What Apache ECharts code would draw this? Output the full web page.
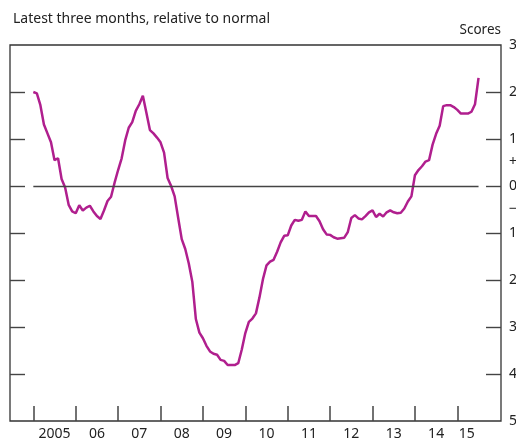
<!DOCTYPE html>
<html>
<head>
<meta charset="utf-8">
<script src="https://cdn.jsdelivr.net/npm/echarts@6/dist/echarts.min.js"></script>
<style>
  html, body { margin: 0; padding: 0; background: #fff; }
  #chart { width: 516px; height: 439px; }
</style>
</head>
<body>
<div id="chart"></div>
<script>
// monthly scores, Jan 2005 onwards
const startYear = 2005;
const scores = [
  2.00, 1.97, 1.72, 1.31, 1.12, 0.93, 0.55, 0.59, 0.15, -0.03, -0.40, -0.54,
  -0.58, -0.41, -0.52, -0.46, -0.42, -0.54, -0.64, -0.70, -0.52, -0.32, -0.23, 0.07,
  0.34, 0.59, 0.97, 1.24, 1.36, 1.60, 1.74, 1.92, 1.56, 1.19, 1.12, 1.03,
  0.93, 0.71, 0.17, 0.00, -0.22, -0.68, -1.13, -1.34, -1.65, -2.04, -2.83, -3.12,
  -3.24, -3.40, -3.52, -3.57, -3.59, -3.70, -3.72, -3.81, -3.81, -3.81, -3.77, -3.48,
  -3.13, -2.89, -2.82, -2.71, -2.37, -1.98, -1.69, -1.61, -1.57, -1.40, -1.20, -1.06,
  -1.05, -0.84, -0.72, -0.74, -0.72, -0.54, -0.64, -0.64, -0.64, -0.75, -0.92, -1.03,
  -1.04, -1.09, -1.12, -1.11, -1.10, -0.98, -0.68, -0.62, -0.69, -0.71, -0.64, -0.56,
  -0.52, -0.66, -0.59, -0.65, -0.56, -0.52, -0.56, -0.58, -0.57, -0.48, -0.33, -0.22,
  0.23, 0.34, 0.42, 0.52, 0.55, 0.88, 1.11, 1.28, 1.70, 1.72, 1.72, 1.68,
  1.62, 1.54, 1.54, 1.54, 1.58, 1.74, 2.30
];
const yearTicks = [2005, 2006, 2007, 2008, 2009, 2010, 2011, 2012, 2013, 2014, 2015];
const yearLabelPos = [2005.5, 2006.5, 2007.5, 2008.5, 2009.5, 2010.5, 2011.5, 2012.5, 2013.5, 2014.5, 2015.22];
const scoreTicks = [-4, -3, -2, -1, 0, 1, 2];
const scoreLabels = [-5, -4, -3, -2, -1, -0.5, 0, 0.5, 1, 2, 3];

const lineData = scores.map((v, i) => [startYear + i / 12, v]);
const lastX = startYear + (scores.length - 1) / 12;

const W = 516, gridLeft = 10, gridRight = 15, tickLen = 15;
const xMin = 2004.45, xMax = 2016.03;
// tick length expressed in x-axis units so the marks go through the axis scale
const tickSpan = tickLen * (xMax - xMin) / (W - gridLeft - gridRight);

const tickSegs = [];
scoreTicks.forEach(t => {
  tickSegs.push([{ coord: [xMin, t] }, { coord: [xMin + tickSpan, t] }]);
  tickSegs.push([{ coord: [xMax - tickSpan, t] }, { coord: [xMax, t] }]);
});

const chart = echarts.init(document.getElementById('chart'));
const tickStyle = { show: true, inside: true, length: tickLen, lineStyle: { color: '#444', width: 1.5 } };

chart.setOption({
  animation: false,
  textStyle: { fontFamily: 'Noto Sans' },
  title: {
    text: 'Latest three months, relative to normal',
    left: 8, top: 7,
    textStyle: { fontSize: 14, fontWeight: 'normal', color: '#222', fontFamily: 'Noto Sans' }
  },
  graphic: [{
    type: 'text', right: 15, top: 23,
    style: { text: 'Scores', fontSize: 13.5, fill: '#222', fontFamily: 'Noto Sans' }
  }],
  grid: {
    left: gridLeft, right: gridRight, top: 45, bottom: 18,
    outerBoundsMode: 'none',
    show: true, backgroundColor: 'transparent', borderColor: '#333', borderWidth: 1.3
  },
  xAxis: {
    type: 'value', min: xMin, max: xMax,
    axisLine: { show: false, onZero: false },
    splitLine: { show: false },
    axisTick: Object.assign({ customValues: yearTicks }, tickStyle),
    axisLabel: {
      customValues: yearLabelPos, margin: 6, fontSize: 14, color: '#222',
      formatter: v => { const y = Math.floor(v); return y === 2005 ? '2005' : String(y).slice(2); }
    }
  },
  yAxis: {
    type: 'value', position: 'right', min: -5, max: 3, interval: 1,
    axisLine: { show: false, onZero: false },
    splitLine: { show: false },
    axisTick: { show: false },
    axisLabel: {
      customValues: scoreLabels, margin: 8, fontSize: 14, color: '#222',
      formatter: v => v === 0.5 ? '+' : (v === -0.5 ? '\u2212' : String(Math.abs(v)))
    }
  },
  series: [{
    type: 'line',
    data: lineData,
    showSymbol: false,
    lineStyle: { color: '#b01f8e', width: 2.5 },
    z: 3,
    markLine: {
      silent: true, symbol: 'none', label: { show: false },
      lineStyle: { color: '#444', width: 1.4, type: 'solid' },
      data: [[{ coord: [startYear, 0] }, { coord: [lastX, 0] }]].concat(tickSegs)
    }
  }]
});
</script>
</body>
</html>
